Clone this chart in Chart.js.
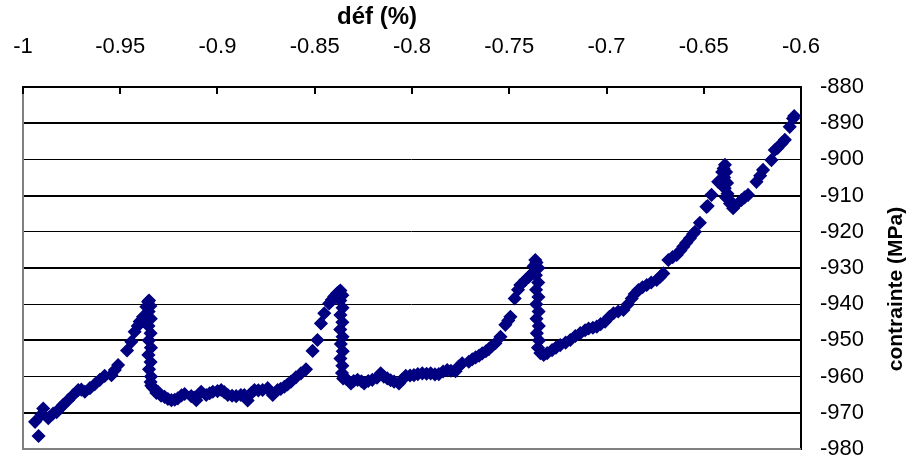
<!DOCTYPE html>
<html>
<head>
<meta charset="utf-8">
<script src="https://cdn.jsdelivr.net/npm/chart.js@4.4.1/dist/chart.umd.min.js"></script>
<style>
  html, body { margin: 0; padding: 0; background: #fff; }
  canvas { display: block; }
</style>
</head>
<body>
<canvas id="chart" width="912" height="462"></canvas>
<script>
// strain (%)
const strain = [
  -0.9920, -0.9938, -0.9905, -0.9896, -0.9870, -0.9845, -0.9827, -0.9805, -0.9793, -0.9768,
  -0.9742, -0.9716, -0.9700, -0.9682, -0.9656, -0.9631, -0.9605, -0.9580, -0.9545, -0.9528,
  -0.9511, -0.9465, -0.9443, -0.9426, -0.9410, -0.9400, -0.9383, -0.9366, -0.9357,
  -0.9352, -0.9345, -0.9354, -0.9343, -0.9355, -0.9344, -0.9353, -0.9342, -0.9355, -0.9344,
  -0.9352, -0.9342, -0.9344, -0.9340, -0.9332, -0.9314, -0.9306, -0.9290, -0.9272, -0.9255,
  -0.9237, -0.9220, -0.9204, -0.9185, -0.9169, -0.9135, -0.9120, -0.9109, -0.9084, -0.9058,
  -0.9040, -0.9024, -0.9000, -0.8981, -0.8965, -0.8947, -0.8925, -0.8904, -0.8880, -0.8862,
  -0.8845, -0.8825, -0.8810, -0.8790, -0.8768, -0.8742, -0.8716, -0.8691, -0.8675, -0.8656,
  -0.8640, -0.8622, -0.8597, -0.8571, -0.8545, -0.8511, -0.8486, -0.8468, -0.8451, -0.8426,
  -0.8412, -0.8400, -0.8385, -0.8374,
  -0.8368, -0.8358, -0.8369, -0.8357, -0.8368, -0.8358, -0.8369, -0.8357, -0.8366, -0.8356,
  -0.8368, -0.8358, -0.8360, -0.8354, -0.8340, -0.8314, -0.8300, -0.8280, -0.8260, -0.8246,
  -0.8225, -0.8204, -0.8180, -0.8161, -0.8145, -0.8127, -0.8110, -0.8092, -0.8067, -0.8050,
  -0.8032, -0.8010, -0.7990, -0.7970, -0.7947, -0.7925, -0.7904, -0.7882, -0.7862, -0.7840,
  -0.7819, -0.7800, -0.7776, -0.7760, -0.7742, -0.7708, -0.7690, -0.7673, -0.7655, -0.7639,
  -0.7620, -0.7605, -0.7590, -0.7571, -0.7545, -0.7520, -0.7505, -0.7494, -0.7472, -0.7455,
  -0.7443, -0.7417, -0.7400, -0.7383, -0.7375, -0.7366,
  -0.7360, -0.7350, -0.7363, -0.7351, -0.7362, -0.7350, -0.7361, -0.7349, -0.7360, -0.7348,
  -0.7358, -0.7347, -0.7352, -0.7340, -0.7323, -0.7305, -0.7280, -0.7260, -0.7238, -0.7210,
  -0.7186, -0.7160, -0.7135, -0.7110, -0.7092, -0.7070, -0.7050, -0.7030, -0.7007, -0.6985,
  -0.6964, -0.6940, -0.6913, -0.6890, -0.6870, -0.6855, -0.6836, -0.6815, -0.6793, -0.6770,
  -0.6742, -0.6725, -0.6708, -0.6682, -0.6660, -0.6639, -0.6620, -0.6605, -0.6590, -0.6571,
  -0.6555, -0.6545, -0.6520, -0.6486, -0.6480, -0.6460, -0.6426, -0.6405, -0.6391,
  -0.6398, -0.6385, -0.6395, -0.6380, -0.6392, -0.6378, -0.6372, -0.6385, -0.6365, -0.6349,
  -0.6340, -0.6306, -0.6290, -0.6272, -0.6229, -0.6210, -0.6195, -0.6152, -0.6135, -0.6120,
  -0.6100, -0.6083, -0.6058, -0.6041, -0.6035
];

// stress (MPa)
const stress = [
  -976.4, -972.5, -970.5, -968.8, -971.5, -970.2, -969.8, -968.5, -967.8, -966.5,
  -965.1, -963.7, -963.6, -964.2, -963.2, -962.1, -960.9, -959.8, -959.6, -958.2,
  -956.8, -952.8, -950.4, -947.6, -946.0, -944.8, -943.5, -940.7, -939.3,
  -939.0, -940.5, -942.0, -944.0, -946.0, -948.0, -950.0, -952.0, -954.0, -956.0,
  -958.0, -960.0, -961.5, -962.5, -963.1, -964.5, -964.2, -965.3, -965.6, -966.2,
  -966.5, -966.4, -966.0, -965.2, -964.8, -965.4, -965.8, -966.5, -964.2, -965.1,
  -964.6, -964.2, -964.0, -963.7, -964.3, -965.1, -965.3, -965.4, -965.1, -965.1,
  -966.6, -964.5, -963.7, -963.8, -963.7, -963.2, -965.1, -963.7, -963.4, -962.8,
  -962.2, -961.4, -960.2, -959.1, -958.0, -952.9, -949.9, -945.3, -942.5, -939.8,
  -938.8, -937.9, -937.0, -936.5,
  -936.2, -937.5, -939.0, -941.0, -943.0, -945.0, -947.0, -949.0, -951.0, -953.0,
  -955.0, -957.0, -959.0, -960.5, -960.5, -961.9, -961.2, -960.9, -961.3, -961.9,
  -961.2, -960.9, -960.3, -959.1, -960.0, -960.5, -961.0, -961.4, -961.9, -960.8,
  -959.8, -959.7, -959.6, -959.3, -959.1, -959.2, -959.1, -959.4, -959.3, -958.6,
  -958.2, -958.4, -958.5, -957.2, -956.3, -955.9, -955.2, -954.7, -954.2, -953.6,
  -953.0, -952.4, -951.6, -950.8, -949.0, -945.7, -944.5, -943.5, -938.4, -936.0,
  -934.7, -933.3, -932.5, -931.5, -929.5, -927.8,
  -928.5, -930.0, -932.0, -934.0, -936.0, -938.0, -940.0, -942.0, -944.0, -946.0,
  -948.0, -950.0, -952.0, -953.5, -954.0, -953.5, -952.7, -952.0, -951.3, -950.6,
  -949.9, -948.8, -948.0, -947.2, -946.7, -946.5, -946.2, -945.5, -944.8, -943.5,
  -942.5, -942.0, -941.6, -940.0, -938.4, -937.2, -936.1, -935.3, -934.7, -934.0,
  -933.3, -932.5, -931.5, -927.8, -927.0, -926.4, -925.2, -924.1, -923.0, -921.8,
  -920.6, -920.0, -917.5, -913.1, -912.9, -909.8, -906.2, -903.5, -901.5,
  -902.5, -903.5, -905.0, -906.5, -908.0, -909.5, -911.0, -910.5, -912.2, -913.5,
  -912.8, -911.2, -910.5, -909.8, -906.2, -904.5, -902.9, -900.2, -897.4, -896.8,
  -895.6, -894.6, -891.0, -888.7, -888.0
];

const xTicks = [-1, -0.95, -0.9, -0.85, -0.8, -0.75, -0.7, -0.65, -0.6];
const yTicks = [-980, -970, -960, -950, -940, -930, -920, -910, -900, -890, -880];

const xTitle = 'déf (%)';
const yTitle = 'contrainte (MPa)';

const navy = '#000080';
const tickFont = { family: "'Liberation Sans', Arial, sans-serif", size: 22 };

const points = strain.map((x, i) => ({ x: x, y: stress[i] }));

// drop the label overhang paddings so the plot area lands where the reference has it
function noOverhang(s) {
  s.paddingLeft = 0;
  s.paddingRight = 0;
  s.paddingTop = 0;
  s.paddingBottom = 0;
}

// frame, inner tick marks on the top axis, and the two axis titles
const decor = {
  id: 'decor',
  beforeDatasetsDraw(chart) {
    const ctx = chart.ctx;
    const a = chart.chartArea;
    const xs = chart.scales.x;
    ctx.save();
    ctx.strokeStyle = '#808080';
    ctx.lineWidth = 2;
    ctx.beginPath();
    ctx.moveTo(a.left, a.top);
    ctx.lineTo(a.left, a.bottom);
    ctx.lineTo(a.right, a.bottom);
    ctx.stroke();

    ctx.strokeStyle = '#000';
    ctx.lineWidth = 2;
    xTicks.forEach(v => {
      const px = Math.round(xs.getPixelForValue(v));
      ctx.beginPath();
      ctx.moveTo(px, a.top);
      ctx.lineTo(px, a.top + 7);
      ctx.stroke();
    });
    ctx.restore();
  },
  afterDraw(chart) {
    const ctx = chart.ctx;
    ctx.save();
    ctx.fillStyle = '#000';
    ctx.font = "bold 24px 'Liberation Sans', Arial, sans-serif";
    ctx.textAlign = 'center';
    ctx.textBaseline = 'middle';
    ctx.fillText(xTitle, 377, 17);

    ctx.translate(896, 289);
    ctx.rotate(-Math.PI / 2);
    ctx.font = "bold 21px 'Liberation Sans', Arial, sans-serif";
    ctx.fillText(yTitle, 0, 0);
    ctx.restore();
  }
};

new Chart(document.getElementById('chart').getContext('2d'), {
  type: 'scatter',
  data: {
    datasets: [{
      data: points,
      pointStyle: 'rectRot',
      pointRadius: 6,
      pointBackgroundColor: navy,
      pointBorderColor: navy,
      pointBorderWidth: 1.5
    }]
  },
  options: {
    responsive: false,
    devicePixelRatio: 1,
    animation: false,
    layout: { padding: { left: 23, top: 0, right: 0, bottom: 13 } },
    plugins: {
      legend: { display: false },
      tooltip: { enabled: false }
    },
    scales: {
      x: {
        type: 'linear',
        position: 'top',
        min: -1,
        max: -0.6,
        afterBuildTicks: s => { s.ticks = xTicks.map(v => ({ value: v })); },
        afterFit: s => { s.height = 87; noOverhang(s); },
        grid: { display: false, drawTicks: false },
        border: { display: true, color: '#000', width: 2 },
        ticks: {
          color: '#000',
          font: tickFont,
          padding: 27,
          maxRotation: 0,
          autoSkip: false,
          callback: v => String(v)
        }
      },
      y: {
        type: 'linear',
        position: 'right',
        min: -980,
        max: -880,
        afterBuildTicks: s => { s.ticks = yTicks.map(v => ({ value: v })); },
        afterFit: s => { s.width = 111; noOverhang(s); },
        grid: {
          color: '#000',
          drawTicks: false,
          lineWidth: c => (c.tick && (c.tick.value / 10) % 2 !== 0) ? 2 : 1
        },
        border: { display: true, color: '#000', width: 2 },
        ticks: {
          color: '#000',
          font: tickFont,
          padding: 19,
          autoSkip: false,
          callback: v => String(v)
        }
      }
    }
  },
  plugins: [decor]
});
</script>
</body>
</html>
